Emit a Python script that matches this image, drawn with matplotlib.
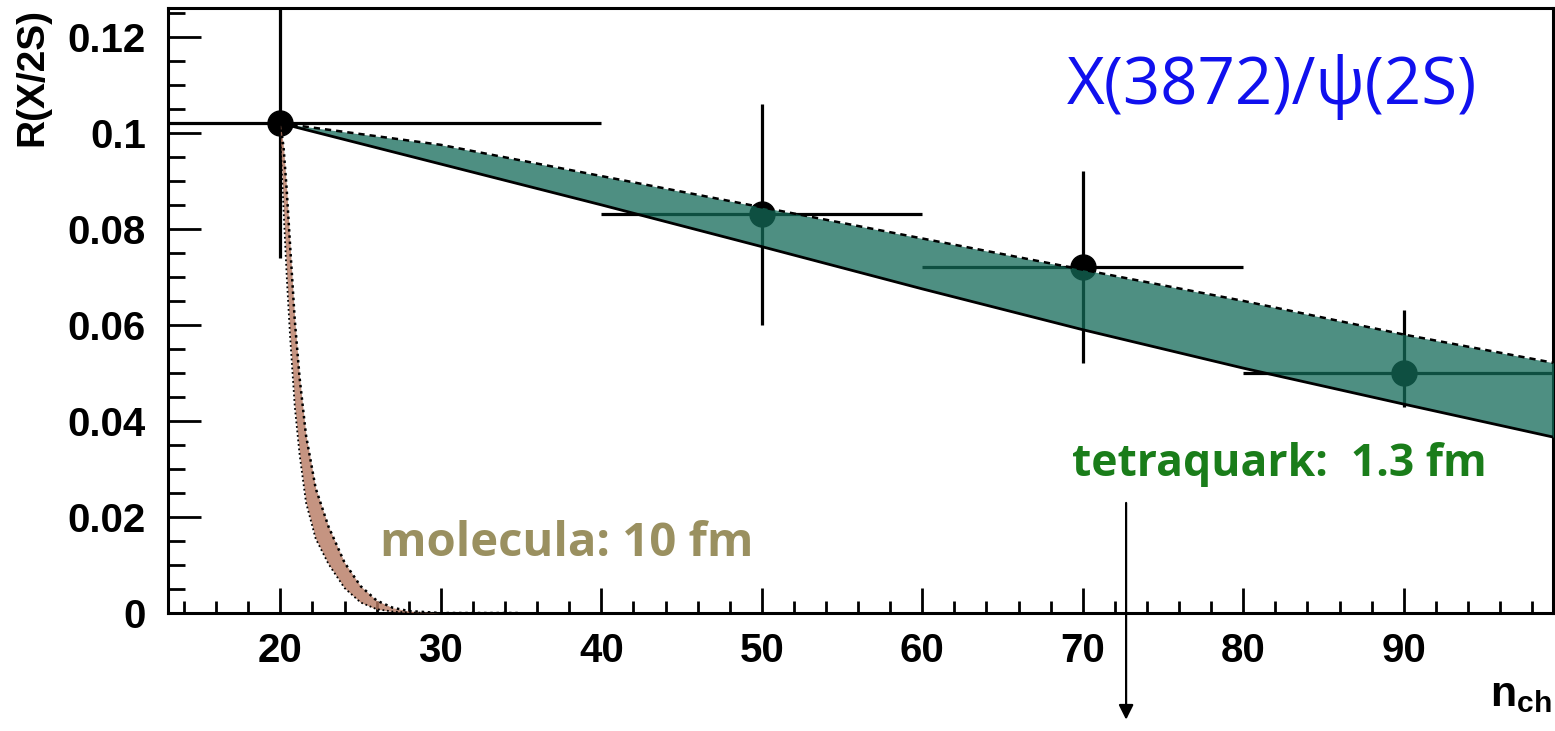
import numpy as np
from matplotlib import pyplot as plt
from matplotlib.ticker import MultipleLocator

plt.rcParams['mathtext.fontset'] = 'custom'
plt.rcParams['mathtext.bf'] = 'Liberation Sans:bold'
plt.rcParams['mathtext.rm'] = 'Liberation Sans:bold'

# measured points
n_ch = [20, 50, 70, 90]
ratio = [0.102, 0.083, 0.072, 0.050]
x_lo = [0, 40, 60, 80]
x_hi = [40, 60, 80, 100]
y_lo = [0.074, 0.060, 0.052, 0.043]
y_hi = [0.130, 0.106, 0.092, 0.063]

# tetraquark band (1.3 fm)
tq_n = [20, 30, 40, 50, 60, 70, 80, 90, 99.5]
tq_upper = [0.102, 0.0975, 0.091, 0.0845, 0.078, 0.0715, 0.065, 0.058, 0.052]
tq_lower = [0.102, 0.0935, 0.085, 0.0763, 0.0675, 0.059, 0.051, 0.0435, 0.0365]

# molecule band (10 fm)
mol_n = [20, 20.2, 20.4, 20.6, 20.9, 21.2, 21.6, 22.2, 23, 24, 25, 26, 27, 28, 30, 35]
mol_upper = [0.102, 0.097, 0.088, 0.077, 0.061, 0.049, 0.037, 0.026, 0.018, 0.0105, 0.0056, 0.0026, 0.0011, 0.0004, 0.0, 0.0]
mol_lower = [0.099, 0.084, 0.070, 0.058, 0.043, 0.033, 0.023, 0.0155, 0.0102, 0.0052, 0.0022, 0.0008, 0.0003, 0.0001, 0.0, 0.0]

fig = plt.figure(figsize=(15.55, 7.31), dpi=100)
ax = fig.add_axes([168 / 1555, 118 / 731, 1385 / 1555, 605 / 731])

n = np.array(n_ch)
r = np.array(ratio)
xerr = [n - np.array(x_lo), np.array(x_hi) - n]
yerr = [r - np.array(y_lo), np.array(y_hi) - r]
ax.errorbar(n, r, xerr=xerr, yerr=yerr, fmt='o', color='black', ms=18,
            elinewidth=2.3, capsize=0, zorder=2)

# tetraquark band drawn over the points
ax.fill_between(tq_n, tq_lower, tq_upper, color='#136a58', alpha=0.75, lw=0, zorder=3)
ax.plot(tq_n, tq_upper, color='black', lw=1.8, ls=(0, (2.5, 2)), zorder=4)
ax.plot(tq_n, tq_lower, color='black', lw=2.0, zorder=4)

# molecule band
ax.fill_between(mol_n, mol_lower, mol_upper, color='#b77a62', alpha=0.8, lw=0, zorder=3)
ax.plot(mol_n, mol_upper, color='black', lw=1.8, ls=(0, (1, 1.5)), zorder=4)
ax.plot(mol_n, mol_lower, color='black', lw=1.3, ls=(0, (1, 1.5)), zorder=4)

ax.set_xlim(13, 99.3)
ax.set_ylim(0, 0.126)
ax.xaxis.set_major_locator(MultipleLocator(10))
ax.xaxis.set_minor_locator(MultipleLocator(2))
ax.yaxis.set_major_locator(MultipleLocator(0.02))
ax.yaxis.set_minor_locator(MultipleLocator(0.005))
ax.yaxis.set_major_formatter(plt.FuncFormatter(lambda v, p: '0' if v == 0 else f'{v:g}'))
ax.tick_params(which='major', direction='in', length=18, width=2, labelsize=29, pad=14)
ax.tick_params(which='minor', direction='in', length=9, width=2)
ax.tick_params(axis='y', which='major', length=24, pad=16)
ax.tick_params(axis='y', which='minor', length=12)
for lab in ax.get_xticklabels() + ax.get_yticklabels():
    lab.set_fontfamily('Liberation Sans')
    lab.set_fontweight('bold')
for s in ax.spines.values():
    s.set_linewidth(2.2)

ax.set_ylabel('R(X/2S)', fontsize=28, family='Liberation Sans', fontweight='bold', loc='top')
ax.yaxis.set_label_coords(-0.085, 1.0)
fig.text(1552 / 1555, 16 / 731, r'$\mathbf{n}_{\mathbf{ch}}$', fontsize=31, ha='right', va='bottom')

ax.text(0.945, 0.87, 'X(3872)/\u03c8(2S)', transform=ax.transAxes, color='#1010ee',
        fontsize=47, family=['Open Sans', 'DejaVu Sans'], ha='right', va='center')
ax.text(0.952, 0.245, 'tetraquark:  1.3 fm', transform=ax.transAxes, color='#1a7d1a',
        fontsize=32, family='Open Sans', fontweight='bold', ha='right', va='center')
ax.text(0.153, 0.115, 'molecula: 10 fm', transform=ax.transAxes, color='#9a9060',
        fontsize=34, family='Open Sans', fontweight='bold', ha='left', va='center')

ax.annotate('', xy=(72.7, -0.0228), xytext=(72.7, 0.0235), annotation_clip=False,
            arrowprops=dict(arrowstyle='-|>', color='black', lw=1.6, mutation_scale=22))

fig.savefig('out.png', dpi=100)
